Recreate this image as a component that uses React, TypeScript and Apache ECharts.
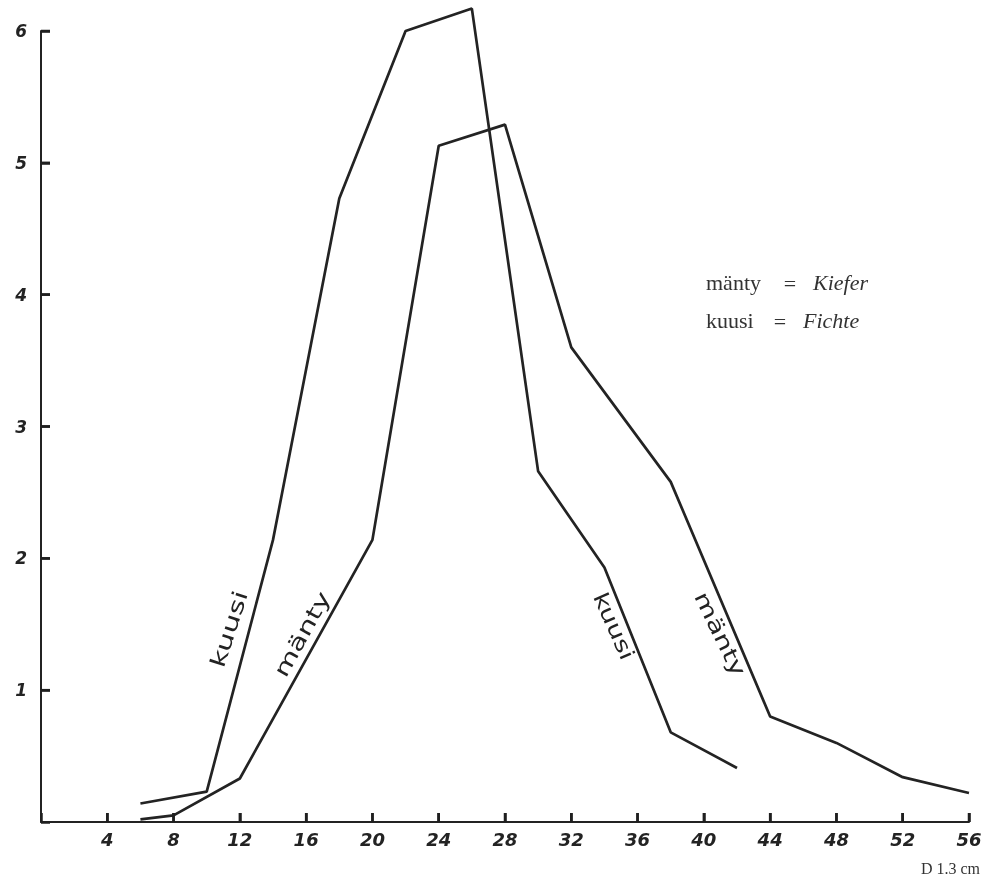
import React, { useEffect, useRef } from "react";
import * as echarts from "echarts";

// Diameter class (D 1.3 cm) and values for spruce (kuusi) and pine (mänty)
const kuusiD = [6, 10, 14, 18, 22, 26, 30, 34, 38, 42];
const kuusiV = [0.14, 0.23, 2.14, 4.73, 6.0, 6.17, 2.66, 1.93, 0.68, 0.41];

const mantyD = [6, 8, 12, 20, 24, 28, 32, 38, 44, 48, 52, 56];
const mantyV = [0.02, 0.05, 0.33, 2.14, 5.13, 5.29, 3.6, 2.58, 0.8, 0.6, 0.34, 0.22];

const xTicks = [4, 8, 12, 16, 20, 24, 28, 32, 36, 40, 44, 48, 52, 56];
const yTicks = [1, 2, 3, 4, 5, 6];

const xAxisName = "D 1.3 cm";
const legendRows = [
  { fi: "mänty", de: "Kiefer" },
  { fi: "kuusi", de: "Fichte" },
];

const INK = "#232323";

export default function App() {
  const ref = useRef<HTMLDivElement>(null);

  useEffect(() => {
    if (!ref.current) return;
    const chart = echarts.init(ref.current, undefined, { renderer: "svg" });

    const toPairs = (xs: number[], ys: number[]) => xs.map((x, i) => [x, ys[i]]);
    const handFont = "DejaVu Sans";
    const serif = "Liberation Serif";

    const curveLabel = (text: string, x: number, y: number, deg: number, sx: number) => ({
      type: "text",
      x,
      y,
      rotation: (deg * Math.PI) / 180,
      scaleX: sx,
      style: {
        text,
        fontSize: 21,
        fontFamily: handFont,
        fill: INK,
        textAlign: "center",
        textVerticalAlign: "middle",
        align: "center",
        verticalAlign: "middle",
      },
    });

    const legendText = (text: string, x: number, y: number, italic: boolean, align = "left") => ({
      type: "text",
      x,
      y,
      style: {
        text,
        fontSize: 22,
        fontFamily: serif,
        fontStyle: italic ? "italic" : "normal",
        fill: "#333",
        textAlign: align,
        textVerticalAlign: "middle",
        align,
        verticalAlign: "middle",
      },
    });

    // inward tick marks drawn through the axis scales
    const tickSeries = (data: number[][], horizontal: boolean) => ({
      type: "custom",
      data,
      z: 10,
      renderItem: (_params: any, api: any) => {
        const p = api.coord([api.value(0), api.value(1)]);
        return {
          type: "line",
          shape: horizontal
            ? { x1: p[0], y1: p[1], x2: p[0] + 9, y2: p[1] }
            : { x1: p[0], y1: p[1], x2: p[0], y2: p[1] - 9 },
          style: { stroke: "#1f1f1f", lineWidth: 2.5 },
        };
      },
    });

    chart.setOption({
      animation: false,
      grid: { left: 41, right: 28, top: 31, bottom: 57 },
      xAxis: {
        type: "value",
        min: 0,
        max: 56,
        interval: 4,
        splitLine: { show: false },
        axisLine: { show: true, lineStyle: { color: INK, width: 2 } },
        axisTick: { show: true, inside: true, length: 9, lineStyle: { color: "#1f1f1f", width: 2.5 } },
        axisLabel: {
          margin: 8,
          color: INK,
          fontSize: 18,
          fontStyle: "italic",
          fontWeight: "bold",
          fontFamily: handFont,
          formatter: (v: number) => (v === 0 ? "" : String(v)),
        },
      },
      yAxis: {
        type: "value",
        min: 0,
        max: 6,
        interval: 1,
        splitLine: { show: false },
        axisLine: { show: true, lineStyle: { color: INK, width: 2 } },
        axisTick: { show: true, inside: true, length: 9, lineStyle: { color: "#1f1f1f", width: 2.5 } },
        axisLabel: {
          margin: 14,
          color: INK,
          fontSize: 17,
          fontStyle: "italic",
          fontWeight: "bold",
          fontFamily: handFont,
          formatter: (v: number) => (v === 0 ? "" : String(v)),
        },
      },
      series: [
        {
          name: "kuusi",
          type: "line",
          data: toPairs(kuusiD, kuusiV),
          showSymbol: false,
          clip: false,
          lineStyle: { color: INK, width: 2.7 },
        },
        {
          name: "mänty",
          type: "line",
          data: toPairs(mantyD, mantyV),
          showSymbol: false,
          clip: false,
          lineStyle: { color: INK, width: 2.7 },
        },
        tickSeries(xTicks.map((v) => [v, 0]), false),
        tickSeries(yTicks.map((v) => [0, v]), true),
      ],
      graphic: [
        curveLabel("kuusi", 229, 629, 72, 1.45),
        curveLabel("mänty", 302, 634, 61, 1.4),
        curveLabel("kuusi", 614, 626, -66, 1.3),
        curveLabel("mänty", 720, 634, -64, 1.35),
        legendText(legendRows[0].fi, 706, 282, false),
        legendText("=", 790, 283, false, "center"),
        legendText(legendRows[0].de, 813, 282, true),
        legendText(legendRows[1].fi, 706, 320, false),
        legendText("=", 780, 321, false, "center"),
        legendText(legendRows[1].de, 803, 320, true),
        {
          type: "text",
          x: 980,
          y: 868,
          style: {
            text: xAxisName,
            fontSize: 16,
            fontFamily: serif,
            fill: "#333",
            textAlign: "right",
            textVerticalAlign: "middle",
            align: "right",
            verticalAlign: "middle",
          },
        },
      ],
    });

    return () => chart.dispose();
  }, []);

  return <div ref={ref} style={{ position: "fixed", left: 0, top: 0, width: 997, height: 879 }} />;
}
